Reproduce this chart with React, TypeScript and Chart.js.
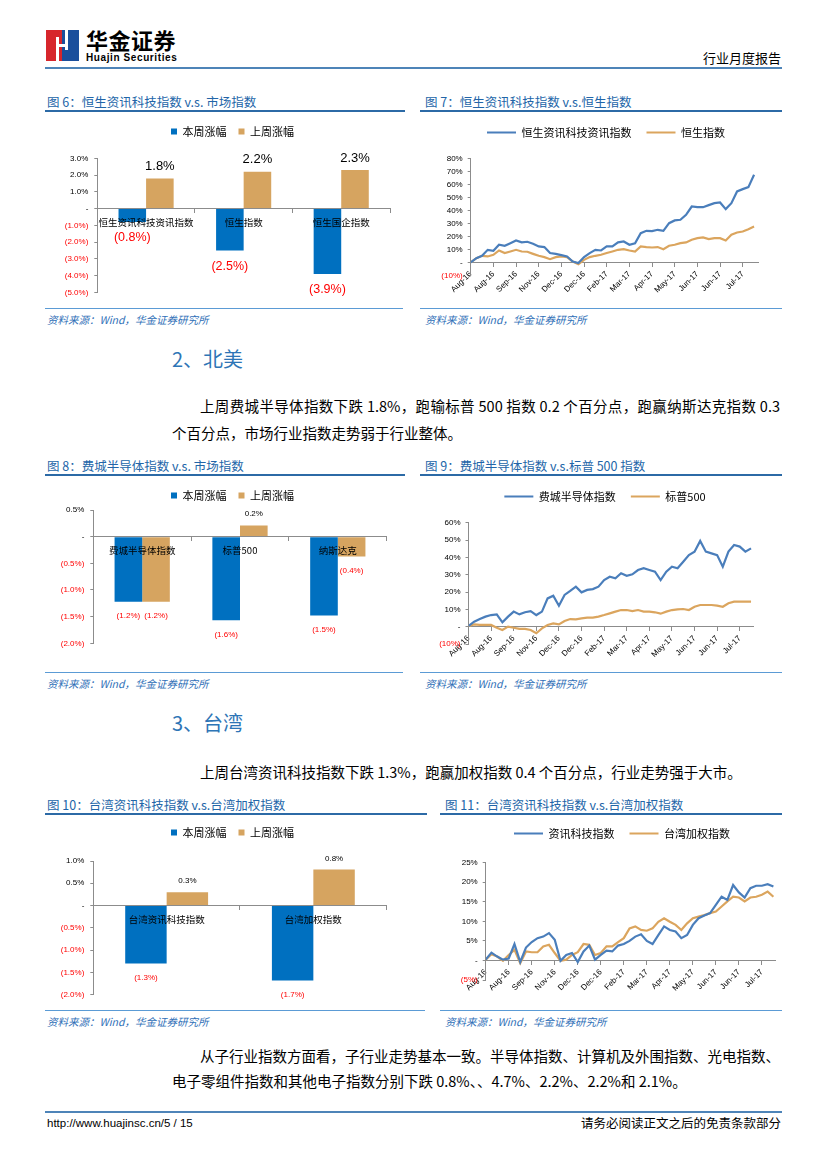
import React, { useEffect, useRef } from 'react';
import { Chart, registerables } from 'chart.js';

Chart.register(...registerables);

const CJK = '"Noto Sans CJK SC", "Liberation Sans", sans-serif';
const LATIN = '"Liberation Sans", "Noto Sans CJK SC", sans-serif';

// ---------------- data ----------------
const weekSeries = ['本周涨幅', '上周涨幅'];

const hkCategories = ['恒生资讯科技资讯指数', '恒生指数', '恒生国企指数'];
const hkThisWeek = [-0.8, -2.5, -3.9];
const hkLastWeek = [1.8, 2.2, 2.3];

const usCategories = ['费城半导体指数', '标普500', '纳斯达克'];
const usThisWeek = [-1.22, -1.57, -1.48];
const usLastWeek = [-1.22, 0.21, -0.37];

const twCategories = ['台湾资讯科技指数', '台湾加权指数'];
const twThisWeek = [-1.3, -1.68];
const twLastWeek = [0.3, 0.81];

const dateTicks = ['Aug-16', 'Aug-16', 'Sep-16', 'Nov-16', 'Dec-16', 'Dec-16', 'Feb-17', 'Mar-17', 'Apr-17', 'May-17', 'Jun-17', 'Jun-17', 'Jul-17'];
const SAMPLE_STEP = 0.25; // values read four times per date-tick interval

const hsNames = ['恒生资讯科技资讯指数', '恒生指数'];
const hsTech = [0, 3.2, 5.0, 9.6, 8.8, 13.5, 12.7, 14.7, 16.8, 15.3, 15.8, 14.2, 12.2, 11.7, 7.1, 6.5, 5.5, 4.5, 0.6, -0.6, 4.0, 7.1, 9.6, 9.1, 12.2, 12.2, 15.3, 16.0, 13.5, 14.7, 22.4, 24.2, 24.0, 25.0, 24.2, 30.1, 32.2, 32.7, 36.5, 42.9, 42.4, 42.4, 44.0, 45.5, 46.0, 40.9, 45.5, 54.5, 56.3, 57.8, 67.3];
const hsIndex = [0, 3.2, 5.0, 4.5, 5.8, 9.1, 7.1, 8.3, 9.6, 8.3, 8.1, 6.5, 5.0, 4.0, 2.4, 4.0, 4.5, 4.0, 0.6, -1.4, 1.9, 4.0, 5.0, 5.8, 7.1, 8.3, 9.6, 10.1, 9.1, 8.3, 12.2, 11.7, 11.4, 11.7, 10.1, 12.7, 13.5, 14.7, 15.3, 17.3, 18.6, 19.1, 17.8, 18.6, 18.6, 16.8, 21.2, 22.9, 23.7, 25.5, 27.6];

const usNames = ['费城半导体指数', '标普500'];
const sox = [0.4, 2.9, 4.4, 5.8, 6.7, 7.1, 2.5, 5.8, 8.7, 7.1, 8.3, 9.0, 6.7, 8.7, 16.3, 17.9, 12.1, 18.3, 20.6, 23.1, 19.8, 21.2, 21.7, 23.1, 26.9, 28.8, 27.9, 30.8, 29.4, 30.2, 32.7, 33.7, 32.7, 31.7, 26.9, 31.7, 34.6, 33.7, 37.5, 41.3, 43.3, 49.5, 43.3, 42.3, 41.3, 34.6, 43.3, 47.1, 46.2, 43.3, 45.2];
const spx = [0.4, 1.3, 1.0, 1.0, 1.0, -0.6, -1.9, 0, -0.6, -1.3, -1.3, -1.9, -3.8, -1.0, 1.0, 1.9, 1.3, 3.3, 4.4, 4.2, 4.8, 5.2, 5.2, 5.8, 6.7, 7.7, 8.7, 9.6, 9.6, 9.0, 9.6, 8.7, 8.7, 8.3, 7.5, 8.7, 9.6, 10.0, 10.2, 9.6, 11.5, 12.5, 12.5, 12.5, 12.1, 11.5, 13.5, 14.4, 14.4, 14.4, 14.4];

const twNames = ['资讯科技指数', '台湾加权指数'];
const twTech = [0.2, 2.0, 1.0, 0.2, 0.5, 4.2, -0.4, 3.3, 4.7, 5.7, 6.1, 7.0, 5.3, -0.1, 1.4, 1.9, -0.4, 2.3, 3.8, 0.2, 1.4, 2.5, 2.3, 3.8, 4.2, 5.0, 6.1, 6.7, 5.0, 4.2, 6.5, 8.7, 7.8, 7.4, 5.7, 6.5, 9.1, 10.8, 11.5, 12.1, 14.2, 16.3, 15.5, 19.3, 17.4, 16.1, 18.5, 19.1, 19.1, 19.5, 18.9];
const twIndex = [0.2, 1.6, 1.0, -0.1, 1.4, 2.7, -0.7, 2.3, 2.1, 2.1, 3.6, 4.0, 1.9, -0.1, 0.2, 1.4, 2.1, 4.2, 4.0, 1.4, 1.9, 3.6, 3.6, 4.7, 5.7, 8.2, 8.7, 7.8, 7.6, 8.2, 9.9, 10.8, 9.9, 9.1, 7.8, 9.5, 10.8, 11.2, 11.6, 12.1, 12.5, 13.8, 15.1, 16.3, 16.1, 15.1, 16.1, 16.3, 16.8, 17.6, 16.3];

// ---------------- styles ----------------
const BAR_BLUE = '#0070C0';
const BAR_GOLD = '#D6A460';
const LINE_BLUE = '#4A7EBB';
const LINE_GOLD = '#DBA55E';
const AXIS = '#8C8C8C';
const RED = '#FF0000';
const TITLE = '#2265A8';
const TITLE_LINE = '#2C6AA6';
const SRC = '#2F6FB7';
const SRC_LINE = '#5B9BD5';
const HEAD = '#2E75B6';

type Area = { l: number; t: number; r: number; b: number };
type Box = { x: number; y: number; w: number; h: number };

function frameFor(box: Box, area: Area, legendCx: number) {
  return {
    padR: box.x + box.w - area.r,
    padB: box.y + box.h - area.b,
    yWidth: area.l - box.x,
    legendH: area.t - box.y,
    legendCx: legendCx - box.x,
  };
}

function pct(v: number, dec: number) {
  if (Math.abs(v) < 1e-9) return '-';
  const s = Math.abs(v).toFixed(dec) + '%';
  return v < 0 ? `(${s})` : s;
}

const tickColor = (c: any) => (c.tick && c.tick.value < -1e-9 ? RED : '#000');
const flatX = (s: any) => { s.height = 0; s.paddingLeft = 0; s.paddingRight = 0; s.paddingTop = 0; s.paddingBottom = 0; };
const fixedY = (w: number) => (s: any) => { s.width = w; s.paddingTop = 0; s.paddingBottom = 0; s.paddingLeft = 0; s.paddingRight = 0; };

// fixes the legend block height and centres its row on a given x
function legendPlugin(h: number, cx: number) {
  return {
    id: 'legendFrame',
    beforeInit(chart: any) {
      const lg = chart.legend;
      if (!lg) return;
      const orig = lg.fit;
      lg.fit = function () { orig.call(lg); lg.height = h; };
    },
    beforeDraw(chart: any) {
      const lg = chart.legend;
      if (!lg) return;
      const d = cx - (lg.left + lg.right) / 2;
      lg.left += d;
      lg.right += d;
    },
  };
}

type LabelOpts = { posSize: number; negSize: number; posOff: number; negOff: number };

function barLabelsPlugin(o: LabelOpts) {
  return {
    id: 'barLabels',
    afterDatasetsDraw(chart: any) {
      const ctx = chart.ctx;
      chart.data.datasets.forEach((ds: any, di: number) => {
        const meta = chart.getDatasetMeta(di);
        meta.data.forEach((el: any, i: number) => {
          const v = ds.data[i] as number;
          const neg = v < 0;
          ctx.save();
          ctx.font = `${neg ? o.negSize : o.posSize}px ${LATIN}`;
          ctx.fillStyle = neg ? RED : '#000';
          ctx.textAlign = 'center';
          ctx.textBaseline = 'middle';
          ctx.fillText(pct(v, 1), el.x, neg ? el.y + o.negOff : el.y - o.posOff);
          ctx.restore();
        });
      });
    },
  };
}

function barChart(cats: string[], a: number[], b: number[], yr: { min: number; max: number; step: number }, box: Box, area: Area, lcx: number, lab: LabelOpts) {
  const f = frameFor(box, area, lcx);
  return {
    type: 'bar',
    data: {
      labels: cats,
      datasets: [
        { label: weekSeries[0], data: a, backgroundColor: BAR_BLUE, borderWidth: 0 },
        { label: weekSeries[1], data: b, backgroundColor: BAR_GOLD, borderWidth: 0 },
      ],
    },
    options: {
      responsive: false,
      animation: false,
      layout: { padding: { left: 0, right: f.padR, top: 0, bottom: f.padB } },
      datasets: { bar: { barPercentage: 1, categoryPercentage: 0.565 } },
      plugins: {
        legend: { position: 'top', labels: { boxWidth: 6, boxHeight: 6, padding: 12, color: '#000', font: { size: 11, family: CJK } } },
        tooltip: { enabled: false },
      },
      scales: {
        x: {
          type: 'category',
          position: { y: 0 },
          offset: true,
          grid: { drawOnChartArea: false, tickLength: 4, color: AXIS, offset: true },
          border: { color: AXIS, z: 1 },
          ticks: { z: 2, color: '#000', font: { size: 9.5, family: CJK }, padding: 4, maxRotation: 0, autoSkip: false },
          afterFit: flatX,
        },
        y: {
          min: yr.min,
          max: yr.max,
          ticks: { stepSize: yr.step, callback: (v: any) => pct(Number(v), 1), color: tickColor, font: { size: 8, family: LATIN }, padding: 6 },
          grid: { drawOnChartArea: false, tickLength: 3, color: AXIS },
          border: { color: AXIS },
          afterFit: fixedY(f.yWidth),
        },
      },
    },
    plugins: [legendPlugin(f.legendH, f.legendCx), barLabelsPlugin(lab)],
  };
}

function lineChart(names: string[], a: number[], b: number[], yr: { min: number; max: number; step: number }, xMax: number, box: Box, area: Area, lcx: number) {
  const f = frameFor(box, area, lcx);
  const pts = (arr: number[]) => arr.map((v, i) => ({ x: i * SAMPLE_STEP, y: v }));
  return {
    type: 'line',
    data: {
      datasets: [
        { label: names[0], data: pts(a), borderColor: LINE_BLUE, backgroundColor: LINE_BLUE, borderWidth: 2.2, pointRadius: 0, tension: 0 },
        { label: names[1], data: pts(b), borderColor: LINE_GOLD, backgroundColor: LINE_GOLD, borderWidth: 2.2, pointRadius: 0, tension: 0 },
      ],
    },
    options: {
      responsive: false,
      animation: false,
      layout: { padding: { left: 0, right: f.padR, top: 0, bottom: f.padB } },
      plugins: {
        legend: { position: 'top', labels: { usePointStyle: true, pointStyle: 'line', pointStyleWidth: 29, padding: 15, color: '#000', font: { size: 11, family: CJK } } },
        tooltip: { enabled: false },
      },
      scales: {
        x: {
          type: 'linear',
          min: 0,
          max: xMax,
          position: { y: 0 },
          afterBuildTicks: (s: any) => { s.ticks = s.ticks.filter((t: any) => Number.isInteger(t.value)); },
          ticks: { stepSize: 1, autoSkip: false, minRotation: 45, maxRotation: 45, color: '#000', font: { size: 8, family: LATIN }, padding: 3, callback: (v: any) => dateTicks[Number(v)] ?? '' },
          grid: { drawOnChartArea: false, tickLength: 4, color: AXIS },
          border: { color: AXIS },
          afterFit: flatX,
        },
        y: {
          min: yr.min,
          max: yr.max,
          ticks: { stepSize: yr.step, callback: (v: any) => pct(Number(v), 0), color: tickColor, font: { size: 8, family: LATIN }, padding: 5 },
          grid: { drawOnChartArea: false, tickLength: 3, color: AXIS },
          border: { color: AXIS },
          afterFit: fixedY(f.yWidth),
        },
      },
    },
    plugins: [legendPlugin(f.legendH, f.legendCx)],
  };
}

function ChartCanvas({ box, make }: { box: Box; make: () => any }) {
  const ref = useRef<HTMLCanvasElement>(null);
  useEffect(() => {
    const chart = new Chart(ref.current as HTMLCanvasElement, make());
    return () => chart.destroy();
  }, []);
  return <canvas ref={ref} width={box.w} height={box.h} style={{ position: 'absolute', left: box.x, top: box.y, width: box.w, height: box.h }} />;
}

function T(p: { x?: number; right?: number; y: number; size: number; color?: string; weight?: number; italic?: boolean; family?: string; width?: number; spacing?: number; children: any }) {
  const h = Math.round(p.size * 1.45);
  const st: any = {
    position: 'absolute',
    top: p.y - h / 2,
    height: h,
    lineHeight: h + 'px',
    fontSize: p.size,
    color: p.color || '#000',
    fontWeight: p.weight || 400,
    fontStyle: p.italic ? 'italic' : 'normal',
    fontFamily: p.family || CJK,
    letterSpacing: p.spacing || 0,
  };
  if (p.right !== undefined) { st.right = 827 - p.right; st.whiteSpace = 'nowrap'; }
  else st.left = p.x;
  if (p.width) { st.width = p.width; st.textAlign = 'justify'; st.textAlignLast = 'justify'; }
  else st.whiteSpace = 'nowrap';
  return <div style={st}>{p.children}</div>;
}

function Rule({ x, y, w, h, color }: { x: number; y: number; w: number; h: number; color: string }) {
  return <div style={{ position: 'absolute', left: x, top: y, width: w, height: h, background: color }} />;
}

const SOURCE = '资料来源：Wind，华金证券研究所';

const box6 = { x: 45, y: 114, w: 360, h: 191 };
const box7 = { x: 415, y: 112, w: 370, h: 193 };
const box8 = { x: 45, y: 478, w: 360, h: 182 };
const box9 = { x: 415, y: 476, w: 370, h: 194 };
const box10 = { x: 45, y: 815, w: 360, h: 195 };
const box11 = { x: 430, y: 813, w: 370, h: 197 };

export default function App() {
  return (
    <div style={{ position: 'absolute', left: 0, top: 0, width: 827, height: 1169, background: '#fff', overflow: 'hidden', fontFamily: CJK, color: '#000' }}>
      {/* header logo */}
      <div style={{ position: 'absolute', left: 46, top: 30, width: 16, height: 31, background: '#D7262C' }} />
      <div style={{ position: 'absolute', left: 62, top: 30, width: 17, height: 31, background: '#1B4F9C' }} />
      <div style={{ position: 'absolute', left: 56, top: 37, width: 3, height: 24, background: '#fff' }} />
      <div style={{ position: 'absolute', left: 65, top: 30, width: 3, height: 20, background: '#fff' }} />
      <div style={{ position: 'absolute', left: 59, top: 44, width: 6, height: 3, background: '#fff' }} />
      <T x={86} y={39} size={22} weight={700} spacing={0.5}>华金证券</T>
      <T x={86} y={57} size={10} weight={700} family={LATIN} spacing={0.6}>Huajin Securities</T>
      <T right={781} y={57} size={13}>行业月度报告</T>
      <Rule x={45} y={67} w={737} h={2} color="#4E84B8" />

      {/* row 1 */}
      <T x={47} y={102} size={12.5} color={TITLE}>图 6：恒生资讯科技指数 v.s. 市场指数</T>
      <Rule x={45} y={110} w={360} h={1.5} color={TITLE_LINE} />
      <T x={425} y={102} size={12.5} color={TITLE}>图 7：恒生资讯科技指数 v.s.恒生指数</T>
      <Rule x={420} y={110} w={362} h={1.5} color={TITLE_LINE} />
      <ChartCanvas box={box6} make={() => barChart(hkCategories, hkThisWeek, hkLastWeek, { min: -5, max: 3, step: 1 }, box6, { l: 97.3, t: 158.3, r: 390, b: 292.3 }, 232.5, { posSize: 13, negSize: 12.5, posOff: 12, negOff: 16 })} />
      <ChartCanvas box={box7} make={() => lineChart(hsNames, hsTech, hsIndex, { min: -10, max: 80, step: 10 }, 12.7, box7, { l: 470.7, t: 158.3, r: 758.6, b: 275.3 }, 606)} />
      <Rule x={45} y={308} w={358} h={1} color={SRC_LINE} />
      <Rule x={420} y={308} w={362} h={1} color={SRC_LINE} />
      <T x={47} y={319} size={10.5} italic color={SRC}>{SOURCE}</T>
      <T x={425} y={319} size={10.5} italic color={SRC}>{SOURCE}</T>

      {/* section 2 */}
      <T x={172} y={358} size={20} color={HEAD}>2、北美</T>
      <T x={200} y={405} size={14.5} width={580}>上周费城半导体指数下跌 1.8%，跑输标普 500 指数 0.2 个百分点，跑赢纳斯达克指数 0.3</T>
      <T x={172} y={432} size={14.5}>个百分点，市场行业指数走势弱于行业整体。</T>

      {/* row 2 */}
      <T x={47} y={466} size={12.5} color={TITLE}>图 8：费城半导体指数  v.s.  市场指数</T>
      <Rule x={45} y={474} w={360} h={1.5} color={TITLE_LINE} />
      <T x={425} y={466} size={12.5} color={TITLE}>图 9：费城半导体指数 v.s.标普 500 指数</T>
      <Rule x={420} y={474} w={362} h={1.5} color={TITLE_LINE} />
      <ChartCanvas box={box8} make={() => barChart(usCategories, usThisWeek, usLastWeek, { min: -2, max: 0.5, step: 0.5 }, box8, { l: 93.3, t: 510, r: 386.7, b: 643.3 }, 232.5, { posSize: 8, negSize: 8, posOff: 12, negOff: 14 })} />
      <ChartCanvas box={box9} make={() => lineChart(usNames, sox, spx, { min: -10, max: 60, step: 10 }, 12.6, box9, { l: 468.5, t: 522.7, r: 753.3, b: 644 }, 605)} />
      <Rule x={45} y={672} w={358} h={1} color={SRC_LINE} />
      <Rule x={420} y={672} w={362} h={1} color={SRC_LINE} />
      <T x={47} y={683} size={10.5} italic color={SRC}>{SOURCE}</T>
      <T x={425} y={683} size={10.5} italic color={SRC}>{SOURCE}</T>

      {/* section 3 */}
      <T x={172} y={722} size={20} color={HEAD}>3、台湾</T>
      <T x={200} y={771} size={14.5}>上周台湾资讯科技指数下跌 1.3%，跑赢加权指数 0.4 个百分点，行业走势强于大市。</T>

      {/* row 3 */}
      <T x={47} y={805} size={12.5} color={TITLE}>图 10：台湾资讯科技指数 v.s.台湾加权指数</T>
      <Rule x={45} y={813} w={382} h={1.5} color={TITLE_LINE} />
      <T x={445} y={805} size={12.5} color={TITLE}>图 11：台湾资讯科技指数 v.s.台湾加权指数</T>
      <Rule x={440} y={813} w={342} h={1.5} color={TITLE_LINE} />
      <ChartCanvas box={box10} make={() => barChart(twCategories, twThisWeek, twLastWeek, { min: -2, max: 1, step: 0.5 }, box10, { l: 93.3, t: 861, r: 386.7, b: 994.7 }, 232.5, { posSize: 8, negSize: 8, posOff: 11, negOff: 14 })} />
      <ChartCanvas box={box11} make={() => lineChart(twNames, twTech, twIndex, { min: -5, max: 25, step: 5 }, 12.6, box11, { l: 485.7, t: 862.7, r: 775.7, b: 980 }, 622)} />
      <Rule x={45} y={1010} w={380} h={1} color={SRC_LINE} />
      <Rule x={440} y={1010} w={342} h={1} color={SRC_LINE} />
      <T x={47} y={1021} size={10.5} italic color={SRC}>{SOURCE}</T>
      <T x={445} y={1021} size={10.5} italic color={SRC}>{SOURCE}</T>

      <T x={200} y={1055} size={14.5} width={580}>从子行业指数方面看，子行业走势基本一致。半导体指数、计算机及外围指数、光电指数、</T>
      <T x={172} y={1080} size={14.5}>电子零组件指数和其他电子指数分别下跌 0.8%、、4.7%、2.2%、2.2%和 2.1%。</T>

      {/* footer */}
      <Rule x={45} y={1111} w={737} h={2} color="#4E84B8" />
      <T x={47} y={1123} size={11.5} family={LATIN}>http://www.huajinsc.cn/5 / 15</T>
      <T right={781} y={1123} size={12.5}>请务必阅读正文之后的免责条款部分</T>
    </div>
  );
}
